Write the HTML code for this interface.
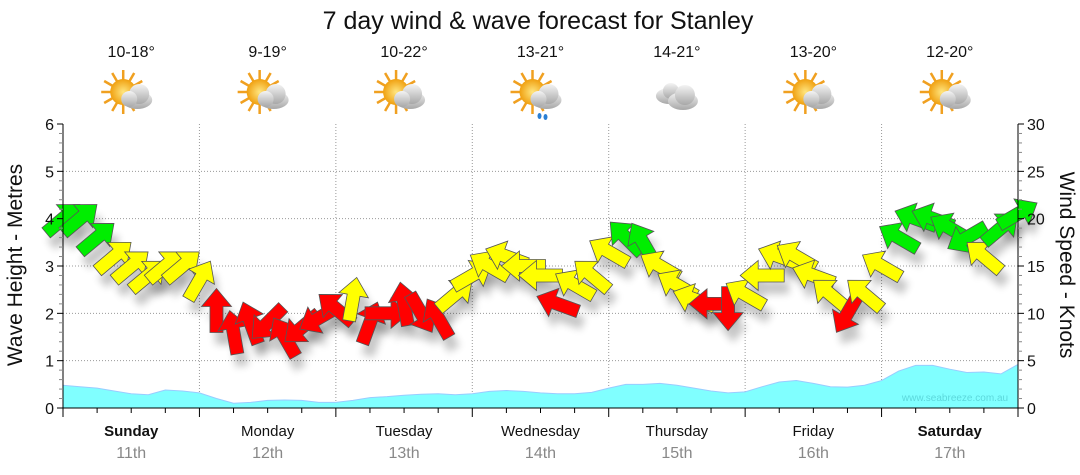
<!DOCTYPE html>
<html><head><meta charset="utf-8">
<style>
body{margin:0;background:#fff;font-family:"Liberation Sans",sans-serif;}
svg{display:block}
</style></head>
<body>
<svg id="chart" width="1080" height="475" viewBox="0 0 1080 475">
<defs>
<filter id="sh" x="-50%" y="-50%" width="200%" height="200%"><feGaussianBlur stdDeviation="4"/></filter>
<radialGradient id="sun" cx="50%" cy="50%" r="50%"><stop offset="0" stop-color="#ffe680"/><stop offset="1" stop-color="#f0a010"/></radialGradient>
<linearGradient id="cloud" x1="0" y1="0" x2="0" y2="1"><stop offset="0" stop-color="#f4f4f4"/><stop offset="1" stop-color="#a8a8a8"/></linearGradient>
</defs>
<text x="538" y="29" text-anchor="middle" font-size="25" fill="#111">7 day wind &amp; wave forecast for Stanley</text>
<g id="grid"></g>
<g id="wave"></g>
<g id="arrows"></g>
<g id="axes"></g>
<g id="days"></g>
<text x="955" y="401" text-anchor="middle" font-size="10" fill="#5cd8dc">www.seabreeze.com.au</text>
<text transform="translate(22,265) rotate(-90)" text-anchor="middle" font-size="21" fill="#111">Wave Height - Metres</text>
<text transform="translate(1060,265) rotate(90)" text-anchor="middle" font-size="21" fill="#111">Wind Speed - Knots</text>
</svg>
<script>
const dayNames=["Sunday","Monday","Tuesday","Wednesday","Thursday","Friday","Saturday"];
const dayDates=["11th","12th","13th","14th","15th","16th","17th"];
const temps=["10-18°","9-19°","10-22°","13-21°","14-21°","13-20°","12-20°"];
const icons=["suncloud","suncloud","suncloud","rain","cloud","suncloud","suncloud"];
const leftTicks=[0,1,2,3,4,5,6];
const rightTicks=[0,5,10,15,20,25,30];
const windSpeed=[20,20,18,16,15,14,15,15,13.5,10.3,8,9,9,7.5,8.5,9.5,10.5,11.5,9,10,11,10,9.5,12,14,15,16,15,14,11,13,14,16.5,18,17.5,15,13,11.5,11,10.5,12,14,16,16,14,12,10,12,15,18,20,20,19,18,16,19,20.5];
const windDir=[-40,-40,-40,-40,-40,-40,-40,-40,-60,-90,-100,-110,135,-120,140,150,-140,-80,-70,0,-100,60,-120,-40,-30,-150,-160,180,180,-160,-150,-140,-150,-135,-120,-150,-150,-160,180,90,-150,180,-160,-150,-160,-140,120,-140,-150,-150,-160,-160,-150,150,-140,-40,-30];
const waveHeight=[0.48,0.45,0.42,0.36,0.30,0.28,0.38,0.36,0.32,0.20,0.10,0.12,0.16,0.17,0.16,0.12,0.12,0.16,0.22,0.24,0.27,0.29,0.30,0.28,0.30,0.35,0.37,0.35,0.32,0.30,0.30,0.33,0.42,0.50,0.50,0.52,0.48,0.42,0.36,0.32,0.34,0.45,0.55,0.58,0.52,0.45,0.44,0.48,0.58,0.78,0.90,0.90,0.82,0.75,0.76,0.72,0.92];

const X0=63,X1=1018,Y0=408,Y1=124;
const NS="http://www.w3.org/2000/svg";
const nSteps=56;
const xAt=i=>X0+(X1-X0)*i/nSteps;
const yM=m=>Y0-(Y0-Y1)*m/6;
const yK=k=>Y0-(Y0-Y1)*k/30;
const dayW=(X1-X0)/7;
function mk(tag,attrs,parent){const e=document.createElementNS(NS,tag);for(const k in attrs)e.setAttribute(k,attrs[k]);parent.appendChild(e);return e;}
const grid=document.getElementById('grid'),axes=document.getElementById('axes'),wave=document.getElementById('wave'),arr=document.getElementById('arrows'),days=document.getElementById('days');

leftTicks.forEach(v=>{if(v>0&&v<6){const l=mk('line',{x1:X0,x2:X1,y1:yM(v),y2:yM(v),stroke:'#999','stroke-dasharray':'1,2'},grid);

}});
for(let d=1;d<7;d++){const l=mk('line',{x1:X0+d*dayW,x2:X0+d*dayW,y1:Y1,y2:Y0,stroke:'#999','stroke-dasharray':'1,2'},grid);

}

let p=`M${X0},${Y0}`;waveHeight.forEach((h,i)=>{p+=` L${xAt(i)},${yM(h)}`;});p+=` L${X1},${Y0} Z`;
const wa=mk('path',{d:p,fill:'#80ffff',stroke:'#99ccff','stroke-width':1},wave);



function color(k){return k>=17.5?'#00ee00':(k>=11.2?'#ffff00':'#ff0000');}
const shape="-22,-6.5 4,-6.5 4,-15 22,0 4,15 4,6.5 -22,6.5";
windSpeed.forEach((k,i)=>{const x=xAt(i),y=yK(k);
 const s=mk('polygon',{points:shape,fill:'#000',opacity:0.22,filter:'url(#sh)',transform:`translate(${x+5},${y+12}) rotate(${windDir[i]})`},arr);
 
 });
windSpeed.forEach((k,i)=>{const x=xAt(i),y=yK(k);
 const a=mk('polygon',{points:shape,fill:color(k),stroke:'#555','stroke-width':0.8,transform:`translate(${x},${y}) rotate(${windDir[i]})`},arr);
 
 });

mk('line',{x1:X0,x2:X0,y1:Y1,y2:Y0,stroke:'#000'},axes);
mk('line',{x1:X1,x2:X1,y1:Y1,y2:Y0,stroke:'#000'},axes);
mk('line',{x1:X0,x2:X1,y1:Y0,y2:Y0,stroke:'#000'},axes);
for(let m=0;m<=30;m++){const y=Y0-(Y0-Y1)*m/30;
 mk('line',{x1:X0-(m%5==0?6:4),x2:X0,y1:y,y2:y,stroke:m%5==0?'#000':'#888'},axes);
 mk('line',{x1:X1,x2:X1+(m%5==0?6:4),y1:y,y2:y,stroke:m%5==0?'#000':'#888'},axes);}
leftTicks.forEach(v=>{const t=mk('text',{x:X0-9,y:yM(v)+6,'text-anchor':'end','font-size':16,fill:'#111'},axes);t.textContent=v;
 
 });
rightTicks.forEach(v=>{const t=mk('text',{x:X1+9,y:yK(v)+6,'font-size':16,fill:'#111'},axes);t.textContent=v;
 
 });
for(let q=0;q<=28;q++){const x=X0+(X1-X0)*q/28;mk('line',{x1:x,x2:x,y1:Y0,y2:Y0+(q%4==0?9:5),stroke:'#000'},axes);}

function icon(g,type,cx,cy){
 if(type!=='cloud'){
  for(let r=0;r<12;r++){const a=r*Math.PI/6;mk('line',{x1:cx-8+Math.cos(a)*12,y1:cy-4+Math.sin(a)*12,x2:cx-8+Math.cos(a)*22,y2:cy-4+Math.sin(a)*22,stroke:'#f0a020','stroke-width':2.5},g);}
  mk('circle',{cx:cx-8,cy:cy-4,r:13,fill:'url(#sun)'},g);
  mk('ellipse',{cx:cx+6,cy:cy+4,rx:15,ry:9,fill:'url(#cloud)'},g);
  mk('circle',{cx:cx+8,cy:cy-2,r:10,fill:'url(#cloud)'},g);
  mk('circle',{cx:cx-2,cy:cy+3,r:8,fill:'url(#cloud)'},g);
  if(type==='rain'){mk('ellipse',{cx:cx-1,cy:cy+20,rx:2,ry:3,fill:'#2a7fd4'},g);mk('ellipse',{cx:cx+5,cy:cy+21,rx:2,ry:3,fill:'#2a7fd4'},g);}
 }else{
  mk('ellipse',{cx:cx-8,cy:cy,rx:13,ry:8,fill:'url(#cloud)'},g);
  mk('circle',{cx:cx-6,cy:cy-5,r:8,fill:'url(#cloud)'},g);
  mk('ellipse',{cx:cx+6,cy:cy+5,rx:15,ry:9,fill:'url(#cloud)'},g);
  mk('circle',{cx:cx+8,cy:cy-1,r:10,fill:'url(#cloud)'},g);
 }
}
dayNames.forEach((n,d)=>{const cx=X0+dayW*(d+0.5);
 const t=mk('text',{x:cx,y:57,'text-anchor':'middle','font-size':16,fill:'#111'},days);t.textContent=temps[d];
 
 
 const g=mk('g',{},days);
 
 
 icon(g,icons[d],cx,96);
 const bold=(d==0||d==6);
 const dn=mk('text',{x:cx,y:436,'text-anchor':'middle','font-size':15,fill:'#111','font-weight':bold?'bold':'normal'},days);dn.textContent=n;
 
 
 const dt=mk('text',{x:cx,y:458,'text-anchor':'middle','font-size':16,fill:'#888'},days);dt.textContent=dayDates[d];
 
 
});
</script>
</body></html>
